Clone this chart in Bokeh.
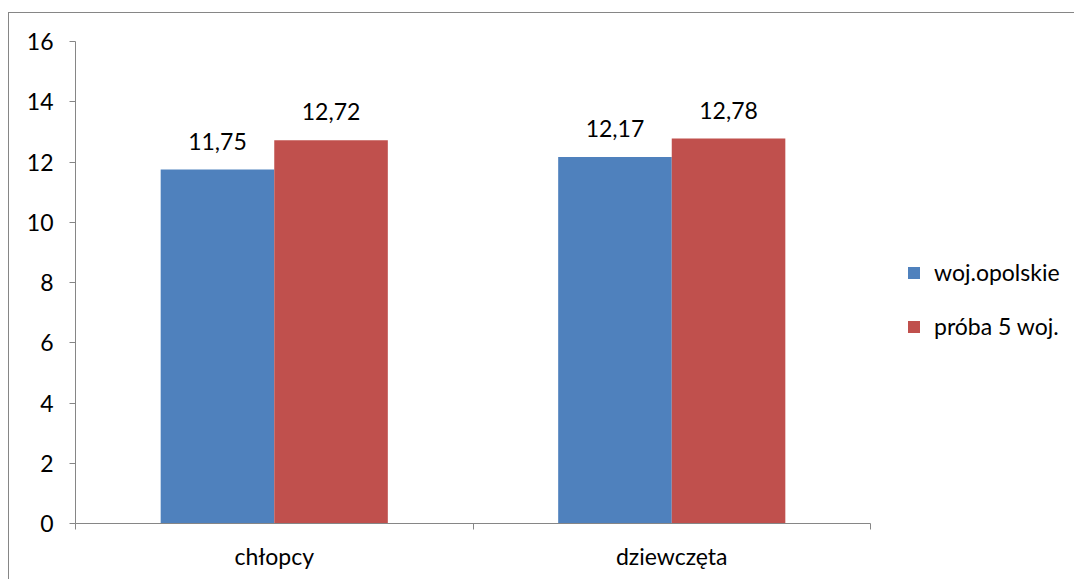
from bokeh.plotting import figure
from bokeh.models import (ColumnDataSource, FixedTicker, Legend, LegendItem,
                          Range1d)
from bokeh.core.properties import value
from bokeh.embed import file_html
from bokeh.resources import INLINE

# Mean values by group
categories = ["chłopcy", "dziewczęta"]
woj_opolskie = [11.75, 12.17]
proba_5_woj = [12.72, 12.78]
series_names = ["woj.opolskie", "próba 5 woj."]
y_ticks = [0, 2, 4, 6, 8, 10, 12, 14, 16]

BLUE = "#4F81BD"
RED = "#C0504D"
AXIS = "#868686"
FONT = "Lato"
FS = "23px"

# Plot area: the category axis covers AXIS_W px, the frame continues to the
# right edge so that the legend can sit inside it.
AXIS_W = 795
FRAME_W = 999
n = len(categories)

bar_w = 1 / 3.5  # gap width 150%
centers = [i + 0.5 for i in range(n)]

src_a = ColumnDataSource(dict(
    x=[c - bar_w / 2 for c in centers], top=woj_opolskie,
    label=[f"{v:.2f}".replace(".", ",") for v in woj_opolskie]))
src_b = ColumnDataSource(dict(
    x=[c + bar_w / 2 for c in centers], top=proba_5_woj,
    label=[f"{v:.2f}".replace(".", ",") for v in proba_5_woj]))

p = figure(frame_width=FRAME_W, frame_height=482, output_backend="svg",
           toolbar_location=None,
           x_range=Range1d(0, n * FRAME_W / AXIS_W), y_range=Range1d(0, 16),
           min_border_left=66, min_border_right=0,
           min_border_top=28, min_border_bottom=56)
p.margin = (12, 0, 0, 8)
p.styles = {"border-left": f"1px solid {AXIS}", "border-top": f"1px solid {AXIS}"}

p.outline_line_color = None
p.grid.visible = False
p.background_fill_color = "white"
p.border_fill_color = "white"

ra = p.vbar(x="x", top="top", width=bar_w, source=src_a, fill_color=BLUE,
            line_color=None)
rb = p.vbar(x="x", top="top", width=bar_w, source=src_b, fill_color=RED,
            line_color=None)

for src in (src_a, src_b):
    p.text(x="x", y="top", text="label", source=src, text_align="center",
           text_baseline="bottom", y_offset=-20, text_font=value(FONT),
           text_font_size=value(FS), text_color="black")

# y axis
yax = p.yaxis[0]
yax.ticker = FixedTicker(ticks=y_ticks)
yax.axis_line_color = AXIS
yax.major_tick_line_color = AXIS
yax.major_tick_in = 0
yax.major_tick_out = 6
yax.minor_tick_line_color = None
yax.major_label_text_font = FONT
yax.major_label_text_font_size = FS
yax.major_label_text_color = "black"
yax.major_label_standoff = 16

# x axis: category names centred, ticks on category boundaries
xax = p.xaxis[0]
xax.bounds = (0, n)
xax.ticker = FixedTicker(ticks=centers, minor_ticks=list(range(n + 1)))
xax.major_label_overrides = {c: name for c, name in zip(centers, categories)}
xax.axis_line_color = AXIS
xax.major_tick_line_color = None
xax.major_tick_in = 0
xax.major_tick_out = 0
xax.minor_tick_line_color = AXIS
xax.minor_tick_in = 0
xax.minor_tick_out = 6
xax.major_label_text_font = FONT
xax.major_label_text_font_size = FS
xax.major_label_text_color = "black"
xax.major_label_standoff = 12

legend = Legend(items=[LegendItem(label=series_names[0], renderers=[ra]),
                       LegendItem(label=series_names[1], renderers=[rb])],
                location=(831, 182), orientation="vertical",
                glyph_width=15, glyph_height=15, label_height=30,
                label_standoff=13, spacing=24, padding=0, margin=0,
                border_line_color=None, background_fill_alpha=0,
                label_text_font=FONT, label_text_font_size=FS,
                label_text_color="black")
p.add_layout(legend)

open("out.html", "w").write(file_html(p, INLINE))
